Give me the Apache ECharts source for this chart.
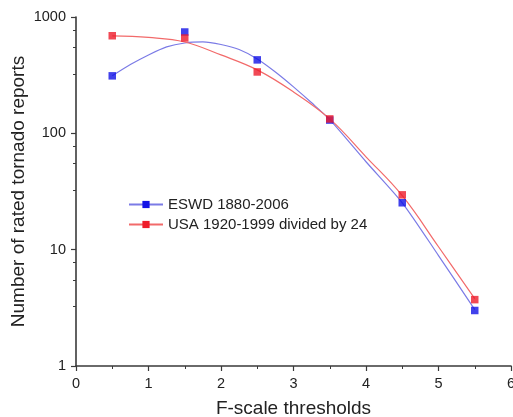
<!DOCTYPE html>
<html>
<head>
<meta charset="utf-8">
<script src="https://cdn.jsdelivr.net/npm/echarts@6/dist/echarts.min.js"></script>
<style>
  html, body { margin: 0; padding: 0; background: #fff; }
  #chart { width: 513px; height: 417px; }
</style>
</head>
<body>
<div id="chart"></div>
<script>
// measured points
const thresholds = [0.5, 1.5, 2.5, 3.5, 4.5, 5.5]
const eswdPoints = [312, 743, 428, 130, 25.3, 3.0]
const usaPoints = [690, 660, 337, 133, 29.6, 3.72]

// fitted curves
const eswdCurveX = [0.5, 0.75, 1.0, 1.25, 1.5, 1.75, 2.0, 2.25, 2.5, 2.75, 3.0, 3.25, 3.5, 4.0, 4.5, 5.0, 5.5]
const eswdCurve = [312, 390, 472, 553, 598, 610, 580, 525, 436, 337, 251, 183, 131, 57, 25.3, 8.9, 3.05]
const usaCurveX = [0.5, 1.0, 1.5, 2.0, 2.5, 3.0, 3.5, 4.0, 4.5, 5.0, 5.5]
const usaCurve = [687, 667, 610, 472, 351, 227, 133, 62.8, 29.1, 10.6, 3.8]

const xTicks = [0, 1, 2, 3, 4, 5, 6]
const yRange = [1, 1000]

const blue = '#1212e6'
const blueLine = '#7b7be6'
const red = '#ee1c2a'
const redLine = '#f26a6a'

const zip = (xs, ys) => xs.map((x, i) => [x, ys[i]])
const font = 'Liberation Sans, Arial'

const chart = echarts.init(document.getElementById('chart'))

const axisCommon = {
  axisLine: { show: true, lineStyle: { color: '#3a3a3a', width: 1.6 } },
  axisTick: { show: true, inside: false, length: 5, lineStyle: { color: '#3a3a3a', width: 1.2 } },
  minorTick: { show: true, length: 3, lineStyle: { color: '#3a3a3a', width: 1 } },
  splitLine: { show: false },
  axisLabel: { color: '#222', fontSize: 14.5, fontFamily: font, margin: 10 },
  nameTextStyle: { color: '#222', fontSize: 19, fontFamily: font },
  nameMoveOverlap: false
}

chart.setOption({
  backgroundColor: '#fff',
  animation: false,
  grid: { left: 76, right: 2, top: 17, bottom: 51, containLabel: false, outerBoundsMode: 'none' },
  legend: {
    left: 128,
    top: 197,
    padding: 0,
    orient: 'vertical',
    itemWidth: 34,
    itemHeight: 9,
    itemGap: 5,
    textStyle: { color: '#222', fontSize: 15, fontFamily: font },
    data: ['ESWD 1880-2006', 'USA 1920-1999 divided by 24']
  },
  xAxis: Object.assign({}, axisCommon, {
    type: 'value',
    min: xTicks[0],
    max: xTicks[xTicks.length - 1],
    interval: 1,
    minorTick: Object.assign({}, axisCommon.minorTick, { splitNumber: 2 }),
    name: 'F-scale thresholds',
    nameLocation: 'middle',
    nameGap: 33
  }),
  yAxis: Object.assign({}, axisCommon, {
    type: 'log',
    logBase: 10,
    min: yRange[0],
    max: yRange[1],
    minorTick: Object.assign({}, axisCommon.minorTick, { splitNumber: 4 }),
    axisLabel: Object.assign({}, axisCommon.axisLabel, { formatter: v => String(v) }),
    name: 'Number of rated tornado reports',
    nameLocation: 'middle',
    nameRotate: 90,
    nameGap: 48
  }),
  series: [
    {
      name: 'ESWD 1880-2006',
      type: 'line',
      smooth: 0.25,
      data: zip(eswdCurveX, eswdCurve),
      symbol: 'rect',
      showSymbol: false,
      itemStyle: { color: blue },
      lineStyle: { color: blueLine, width: 1.2 },
      z: 2
    },
    {
      name: 'USA 1920-1999 divided by 24',
      type: 'line',
      smooth: 0.4,
      data: zip(usaCurveX, usaCurve),
      symbol: 'rect',
      showSymbol: false,
      itemStyle: { color: red },
      lineStyle: { color: redLine, width: 1.2 },
      z: 2
    },
    {
      name: 'eswd points',
      type: 'scatter',
      symbol: 'rect',
      symbolSize: 7.5,
      data: zip(thresholds, eswdPoints),
      itemStyle: { color: blue },
      z: 3
    },
    {
      name: 'usa points',
      type: 'scatter',
      symbol: 'rect',
      symbolSize: 7.5,
      data: zip(thresholds, usaPoints),
      itemStyle: { color: red },
      z: 4
    }
  ]
})
</script>
</body>
</html>
